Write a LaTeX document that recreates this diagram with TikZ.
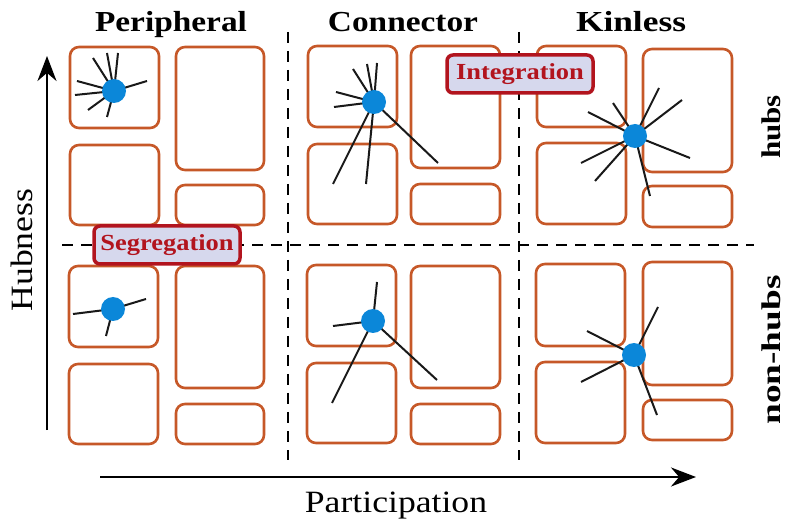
\documentclass[tikz,border=0pt]{standalone}
\usepackage{fontspec}
\usepackage{graphicx}
\setmainfont[FakeStretch=1.15]{Liberation Serif}
\usetikzlibrary{arrows.meta}
\definecolor{boxor}{RGB}{198,88,40}
\definecolor{hubblue}{RGB}{11,135,217}
\definecolor{labred}{RGB}{178,20,30}
\definecolor{labfill}{RGB}{214,216,237}
\tikzset{
  cellbox/.style={draw=boxor, line width=2.6pt, rounded corners=9pt},
  spoke/.style={draw=black!90, line width=2pt},
  hub/.style={circle, fill=hubblue, minimum size=24pt, inner sep=0pt},
  divider/.style={draw=black, line width=2.2pt, dash pattern=on 11pt off 8pt},
  axis/.style={draw=black, line width=2.6pt, -{Stealth[length=25pt,width=19pt]}},
  tag/.style={draw=labred, fill=labfill, line width=3.5pt, rounded corners=6pt, text=labred,
    minimum width=146pt, minimum height=38pt, inner sep=0pt, font=\fontsize{23}{25}\selectfont\bfseries},
  head/.style={font=\fontsize{29}{31}\selectfont\bfseries, anchor=base},
  axlab/.style={font=\fontsize{31}{33}\selectfont},
  rowlab/.style={font=\fontsize{27}{29}\selectfont\bfseries, rotate=90, inner sep=0pt}
}
\begin{document}
\begin{tikzpicture}[x=1pt,y=-1pt]
\useasboundingbox (0,0) rectangle (785,521);
% dividers
\coordinate (vt1) at (288,32); \coordinate (vb1) at (288,460);
\coordinate (vt2) at (519,32); \coordinate (vb2) at (519,460);
\coordinate (hl) at (62,245); \coordinate (hr) at (754,245);
\draw[divider] (vt1) -- (vb1);
\draw[divider] (vt2) -- (vb2);
\draw[divider] (hl) -- (hr);
% axes
\coordinate (ya) at (47,430); \coordinate (yb) at (47,56);
\coordinate (xa) at (100,477); \coordinate (xb) at (696,477);
\draw[axis] (ya) -- (yb);
\draw[axis] (xa) -- (xb);
% cell boxes
% top-left
\draw[cellbox] (70,47) rectangle (159,128);
\draw[cellbox] (176,47) rectangle (264,170);
\draw[cellbox] (70,145) rectangle (159,225);
\draw[cellbox] (176,185) rectangle (264,225);
% top-middle
\draw[cellbox] (308,46) rectangle (397,127);
\draw[cellbox] (411,46) rectangle (500,168);
\draw[cellbox] (308,144) rectangle (397,224);
\draw[cellbox] (411,184) rectangle (500,224);
% top-right
\draw[cellbox] (537,46) rectangle (626,127);
\draw[cellbox] (643,49) rectangle (732,172);
\draw[cellbox] (537,143) rectangle (626,224);
\draw[cellbox] (643,186) rectangle (732,227);
% bottom-left
\draw[cellbox] (69,266) rectangle (158,347);
\draw[cellbox] (176,266) rectangle (264,388);
\draw[cellbox] (69,364) rectangle (158,444);
\draw[cellbox] (176,404) rectangle (264,444);
% bottom-middle
\draw[cellbox] (307,265) rectangle (396,346);
\draw[cellbox] (411,266) rectangle (500,388);
\draw[cellbox] (307,363) rectangle (396,443);
\draw[cellbox] (411,404) rectangle (500,444);
% bottom-right
\draw[cellbox] (536,264) rectangle (625,346);
\draw[cellbox] (643,262) rectangle (732,385);
\draw[cellbox] (536,362) rectangle (625,443);
\draw[cellbox] (643,400) rectangle (732,440);
% hubs and spokes
\coordinate (h1) at (114,91);
\coordinate (h2) at (374,102);
\coordinate (h3) at (635,136);
\coordinate (h4) at (113,309);
\coordinate (h5) at (373,321);
\coordinate (h6) at (634,355);
\foreach \p in {(93,58),(107,53),(118,53),(77,81),(75,95),(88,110),(107,117),(147,81)}
  \draw[spoke] (h1) -- \p;
\foreach \p in {(353,69),(367,64),(377,63),(336,92),(334,107),(333,184),(366,184),(438,163)}
  \draw[spoke] (h2) -- \p;
\foreach \p in {(588,112),(613,103),(659,88),(682,100),(690,158),(650,196),(595,181),(581,163)}
  \draw[spoke] (h3) -- \p;
\foreach \p in {(73,314),(146,299),(106,336)}
  \draw[spoke] (h4) -- \p;
\foreach \p in {(377,282),(333,326),(332,403),(437,380)}
  \draw[spoke] (h5) -- \p;
\foreach \p in {(587,331),(658,307),(581,382),(657,415)}
  \draw[spoke] (h6) -- \p;
\node[hub] (n1) at (h1) {};
\node[hub] (n2) at (h2) {};
\node[hub] (n3) at (h3) {};
\node[hub] (n4) at (h4) {};
\node[hub] (n5) at (h5) {};
\node[hub] (n6) at (h6) {};
% tags
\node[tag] (seg) at (167,245) {Segregation};
\node[tag] (integ) at (520,74) {Integration};
% headers
\node[head] (hp) at (171,32) {Peripheral};
\node[head] (hc) at (403,32) {Connector};
\node[head] (hk) at (631,32) {\scalebox{1.06}[1]{Kinless}};
% axis labels
\node[axlab, rotate=90] (hub) at (22,250) {Hubness};
\node[axlab, anchor=base] (par) at (396,512) {Participation};
\node[rowlab] (rh) at (771,127) {hubs};
\node[rowlab] (rn) at (771,350) {\scalebox{1.2}[1]{non-hubs}};
\end{tikzpicture}
\end{document}
